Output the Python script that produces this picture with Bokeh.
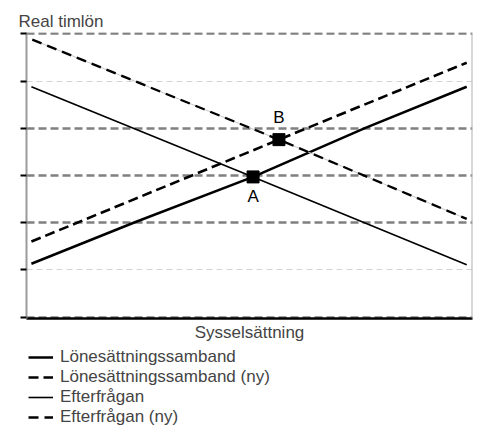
from bokeh.plotting import figure
from bokeh.layouts import column
from bokeh.models import Range1d, FixedTicker, Grid, Span, Legend, LegendItem, ColumnDataSource
from bokeh.core.properties import value
from bokeh.embed import file_html
from bokeh.resources import INLINE

# ---- data ----
lon_x = [0.11, 2.43, 5.08, 7.60, 9.87]
lon_y = [1.13, 2.01, 2.97, 4.01, 4.88]
lon_ny_x = [0.11, 5.66, 9.87]
lon_ny_y = [1.60, 3.76, 5.39]
eft_x = [0.11, 5.08, 9.87]
eft_y = [4.88, 2.97, 1.11]
eft_ny_x = [0.13, 5.66, 9.87]
eft_ny_y = [5.88, 3.76, 2.08]
pt_labels = ["A", "B"]
pt_x = [5.08, 5.66]
pt_y = [2.97, 3.76]
y_ticks = [0, 1, 2, 3, 4, 5, 6]
grid_dark = [0, 2, 3, 4, 6]
grid_light = [1, 5]
series_names = ["Lönesättningssamband", "Lönesättningssamband (ny)",
                "Efterfrågan", "Efterfrågan (ny)"]

FONT = "Liberation Sans"
FS = "17px"

# line styles: (width, dash)
styles = [(2.5, "solid"), (2.6, "10 5"), (1.6, "solid"), (2.3, "10 6")]

p = figure(width=478, height=345, x_range=Range1d(0, 10), y_range=Range1d(-0.03, 6.03),
           output_backend="svg", toolbar_location=None,
           min_border_left=24, min_border_right=6, min_border_top=32, min_border_bottom=27,
           title="Real timlön", x_axis_label="Sysselsättning")
p.outline_line_color = None
p.background_fill_color = "white"
p.border_fill_color = "white"

p.title.text_font = FONT
p.title.text_font_size = FS
p.title.text_font_style = "normal"
p.title.align = "left"
p.title.offset = -8
p.title.standoff = 4

p.xgrid.visible = False
p.ygrid.visible = False
p.add_layout(Grid(dimension=1, ticker=FixedTicker(ticks=grid_dark),
                  grid_line_color="#808080", grid_line_width=2.5, grid_line_dash="8 4"))
p.add_layout(Grid(dimension=1, ticker=FixedTicker(ticks=grid_light),
                  grid_line_color="#d4d4d4", grid_line_width=1, grid_line_dash="6 4"))

# right border
p.add_layout(Span(location=10, dimension="height", line_color="#b0b0b0", line_width=2))

ya = p.yaxis[0]
ya.ticker = FixedTicker(ticks=y_ticks)
ya.major_label_overrides = {t: "" for t in y_ticks}
ya.major_label_standoff = 0
ya.axis_line_color = "#9a9a9a"
ya.axis_line_width = 2
ya.major_tick_line_color = "black"
ya.major_tick_line_width = 2
ya.major_tick_out = 6
ya.major_tick_in = 0
ya.minor_tick_line_color = None

xa = p.xaxis[0]
xa.ticker = FixedTicker(ticks=[])
xa.major_tick_line_color = None
xa.minor_tick_line_color = None
xa.major_label_standoff = 0
xa.axis_line_color = "black"
xa.axis_line_width = 2.5
xa.axis_label_text_font = FONT
xa.axis_label_text_font_size = FS
xa.axis_label_text_font_style = "normal"
xa.axis_label_standoff = 4

p.line(lon_x, lon_y, line_color="black", line_width=styles[0][0], line_dash=styles[0][1])
p.line(lon_ny_x, lon_ny_y, line_color="black", line_width=styles[1][0], line_dash=styles[1][1])
p.line(eft_x, eft_y, line_color="black", line_width=styles[2][0], line_dash=styles[2][1])
p.line(eft_ny_x, eft_ny_y, line_color="#c8c8c8", line_width=1)
p.line(eft_ny_x, eft_ny_y, line_color="black", line_width=styles[3][0], line_dash=styles[3][1])

src = ColumnDataSource(dict(x=pt_x, y=pt_y, t=pt_labels, dy=[20, -22]))
p.scatter("x", "y", source=src, marker="square", size=12, color="black")
p.text("x", "y", text="t", source=src, y_offset="dy", text_align="center",
       text_baseline="middle", text_font=value(FONT), text_font_size=FS,
       text_color="black")

# ---- legend strip below the chart ----
p2 = figure(width=478, height=84, x_range=Range1d(100, 101), y_range=Range1d(100, 101),
            output_backend="svg", toolbar_location=None, x_axis_type=None, y_axis_type=None,
            min_border_left=26, min_border_right=0, min_border_top=0, min_border_bottom=0)
p2.outline_line_color = None
p2.xgrid.visible = False
p2.ygrid.visible = False
xs_list = [lon_x, lon_ny_x, eft_x, eft_ny_x]
ys_list = [lon_y, lon_ny_y, eft_y, eft_ny_y]
items = []
for name, xs, ys, (w, d) in zip(series_names, xs_list, ys_list, styles):
    r = p2.line(xs, ys, line_color="black", line_width=w, line_dash=d)
    items.append(LegendItem(label=name, renderers=[r]))
legend = Legend(items=items, location="top_left", orientation="vertical",
                label_text_font=FONT, label_text_font_size=FS,
                glyph_width=25, glyph_height=18, label_height=20, spacing=0,
                padding=0, margin=2, border_line_color=None,
                background_fill_alpha=0, label_standoff=7)
p2.add_layout(legend, "center")

layout = column(p, p2, spacing=0)
open("out.html", "w").write(file_html(layout, INLINE))
